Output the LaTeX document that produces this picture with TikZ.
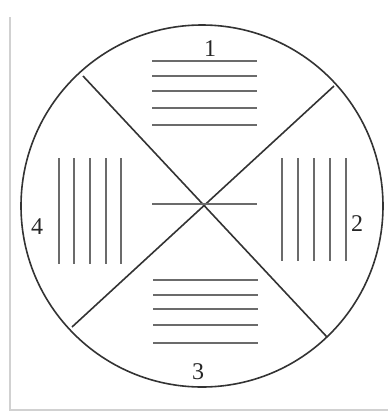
\documentclass[tikz,border=0pt]{standalone}
\usepackage{fontspec}
\setmainfont{Liberation Serif}
\begin{document}
\begin{tikzpicture}[x=1pt,y=-1pt,
  frame/.style={draw=black!18,line width=1.2pt},
  outline/.style={draw=black!80,line width=1.6pt},
  grating/.style={draw=black!58,line width=2.4pt},
  lbl/.style={inner sep=0pt,font=\fontsize{24}{24}\selectfont,text=black!85}]
\useasboundingbox (0,0) rectangle (388,413);
\draw[frame] (10,17) -- (10,410) -- (388,410);
\coordinate (c) at (202,206);
\draw[outline] (c) circle[radius=181];
\coordinate (ul) at (83,76);
\coordinate (lr) at (327,337);
\coordinate (ur) at (334,86);
\coordinate (ll) at (72,327);
\draw[outline] (ul) -- (lr);
\draw[outline] (ur) -- (ll);
% center line
\coordinate (cl) at (152,204);
\coordinate (cr) at (257,204);
\draw[grating] (cl) -- (cr);
% group 1
\foreach \y in {61,76,91,108,125} \draw[grating] (152,\y) -- (257,\y);
% group 3
\foreach \y in {280,295,309,325,343} \draw[grating] (153,\y) -- (258,\y);
% group 4
\foreach \x in {59,74,90,106,121} \draw[grating] (\x,158) -- (\x,264);
% group 2
\foreach \x in {282,298,314,330,346} \draw[grating] (\x,158) -- (\x,261);
\node[lbl] (n1) at (210,49) {1};
\node[lbl] (n2) at (357,224) {2};
\node[lbl] (n3) at (198,372) {3};
\node[lbl] (n4) at (37,227) {4};
\end{tikzpicture}
\end{document}
